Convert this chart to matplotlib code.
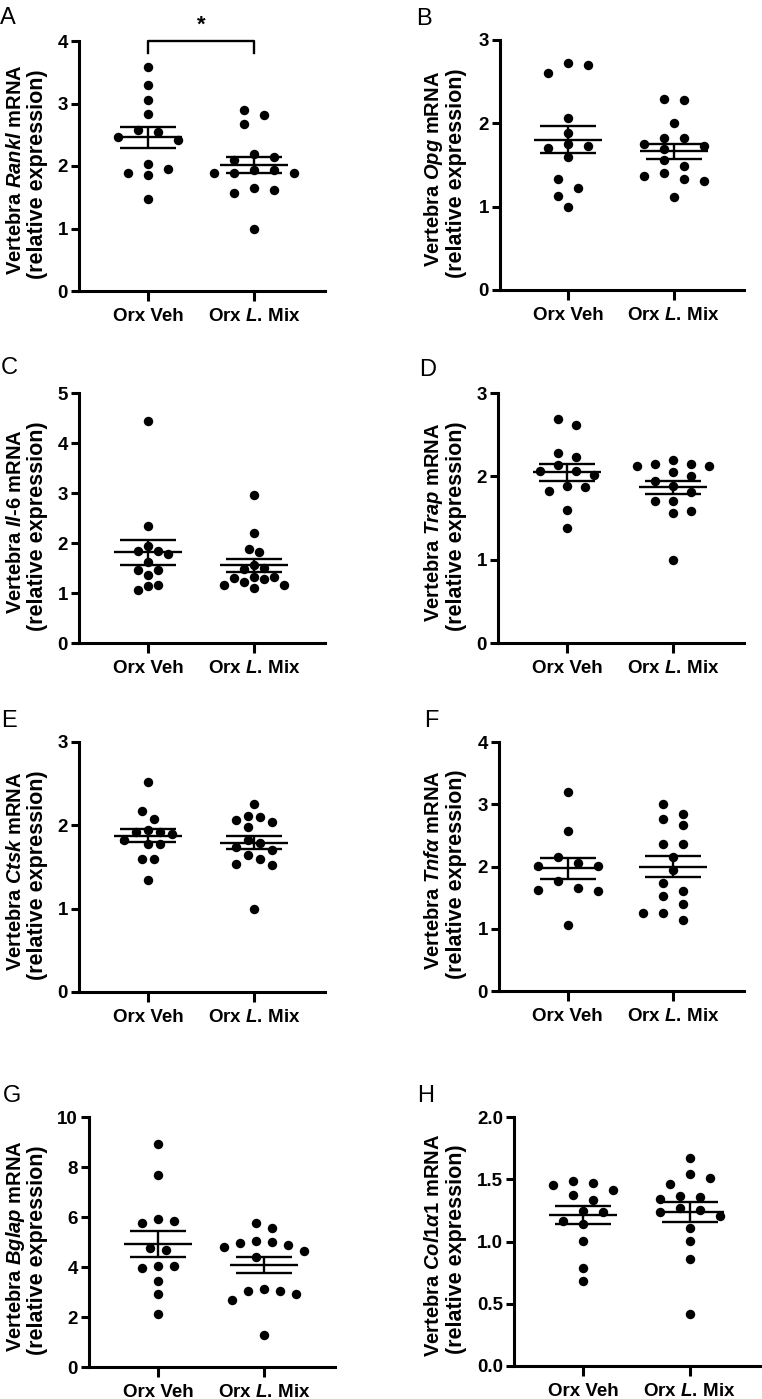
import numpy as np
import matplotlib
matplotlib.use('Agg')
import matplotlib.pyplot as plt

plt.rcParams['font.family'] = ['Liberation Sans', 'DejaVu Sans']
plt.rcParams['mathtext.fontset'] = 'custom'
plt.rcParams['mathtext.rm'] = 'Liberation Sans:bold'
plt.rcParams['mathtext.it'] = 'Liberation Sans:italic:bold'
plt.rcParams['mathtext.bf'] = 'Liberation Sans:bold'

groups = ['Orx Veh', r'Orx $\mathit{L}$. Mix']

# values (relative expression), one list per group
rankl_veh = [3.58, 3.29, 3.06, 2.83, 2.57, 2.54, 2.47, 2.42, 2.04, 1.95, 1.89, 1.85, 1.48]
rankl_mix = [2.89, 2.81, 2.68, 2.20, 2.14, 2.09, 1.93, 1.93, 1.89, 1.89, 1.89, 1.65, 1.62, 1.57, 1.00]
opg_veh = [2.72, 2.70, 2.61, 2.06, 1.89, 1.75, 1.73, 1.71, 1.60, 1.33, 1.23, 1.13, 1.00]
opg_mix = [2.29, 2.28, 2.00, 1.83, 1.83, 1.75, 1.73, 1.69, 1.56, 1.49, 1.40, 1.37, 1.33, 1.31, 1.12]
il6_veh = [4.45, 2.35, 1.95, 1.85, 1.85, 1.78, 1.62, 1.47, 1.47, 1.37, 1.17, 1.15, 1.07]
il6_mix = [2.97, 2.21, 1.89, 1.83, 1.57, 1.50, 1.48, 1.33, 1.32, 1.30, 1.28, 1.23, 1.17, 1.17, 1.11]
trap_veh = [2.69, 2.62, 2.28, 2.23, 2.14, 2.06, 2.06, 2.02, 1.88, 1.87, 1.82, 1.60, 1.38]
trap_mix = [2.20, 2.15, 2.15, 2.12, 2.12, 2.05, 2.01, 1.95, 1.88, 1.81, 1.71, 1.70, 1.59, 1.56, 1.00]
ctsk_veh = [2.52, 2.17, 2.08, 1.94, 1.92, 1.92, 1.90, 1.82, 1.78, 1.78, 1.60, 1.60, 1.34]
ctsk_mix = [2.26, 2.11, 2.10, 2.06, 2.04, 1.98, 1.82, 1.79, 1.74, 1.71, 1.64, 1.60, 1.54, 1.52, 1.00]
tnfa_veh = [3.20, 2.57, 2.16, 2.06, 2.01, 2.01, 1.76, 1.65, 1.62, 1.60, 1.06]
tnfa_mix = [3.00, 2.84, 2.76, 2.66, 2.36, 2.36, 2.16, 1.94, 1.73, 1.60, 1.53, 1.39, 1.26, 1.25, 1.14]
bglap_veh = [8.92, 7.69, 5.92, 5.84, 5.78, 4.75, 4.68, 4.05, 4.05, 3.97, 3.45, 2.94, 2.11]
bglap_mix = [5.75, 5.55, 5.04, 4.99, 4.95, 4.88, 4.81, 4.65, 4.41, 3.11, 3.05, 3.03, 2.94, 2.70, 1.27]
col1a1_veh = [1.488, 1.469, 1.450, 1.416, 1.370, 1.335, 1.241, 1.233, 1.161, 1.139, 1.008, 0.791, 0.686]
col1a1_mix = [1.668, 1.542, 1.507, 1.462, 1.366, 1.360, 1.339, 1.267, 1.253, 1.240, 1.205, 1.111, 1.004, 0.858, 0.416]

letters = ['A', 'B', 'C', 'D', 'E', 'F', 'G', 'H']
genes = [r'$\mathit{Rankl}$', r'$\mathit{Opg}$', r'$\mathit{Il}$-6', r'$\mathit{Trap}$',
         r'$\mathit{Ctsk}$', r'$\mathit{Tnf\alpha}$', r'$\mathit{Bglap}$', r'$\mathit{Col1\alpha1}$']
data = [(rankl_veh, rankl_mix), (opg_veh, opg_mix), (il6_veh, il6_mix), (trap_veh, trap_mix),
        (ctsk_veh, ctsk_mix), (tnfa_veh, tnfa_mix), (bglap_veh, bglap_mix), (col1a1_veh, col1a1_mix)]
ymaxs = [4, 3, 5, 3, 3, 4, 10, 2]
ysteps = [1, 1, 1, 1, 1, 1, 2, 0.5]

# layout in pixels: axes left, top (ymax), bottom (y=0), right; panel letter x, baseline y
W, H = 762, 1399
boxes = [(79, 41, 291, 325), (500, 40, 290, 744),
         (79, 393, 643, 325), (498, 393, 643, 744),
         (79, 742, 992, 325), (499, 742, 991, 744),
         (89, 1117, 1367, 335), (514, 1117, 1366, 761)]
letter_pos = [(0, 24), (416, 25), (1, 374), (419, 376), (1, 727), (424, 727), (3, 1102), (417, 1102)]
swarm_sp = [20, 20, 10, 18, 12, 20, 16, 20]

XL = (0.35, 2.67)


def swarm(vals, ymax, sp_px, h_px, d_px=10.5):
    # greedy slot layout, top value first, centre slot preferred
    vals = np.asarray(vals)
    y = vals * h_px / ymax
    slots = np.zeros(len(vals))
    done = []
    cands = [0] + [s for j in range(1, 10) for s in (j, -j)]
    for i in np.argsort(-vals, kind='stable'):
        for c in cands:
            if all(not (slots[p] == c and abs(y[p] - y[i]) < d_px) for p in done):
                break
        slots[i] = c
        done.append(i)
    # re-centre each chain of touching rows so rows sit symmetric about the group centre
    order = np.argsort(-vals, kind='stable')
    chains, cur = [], [order[0]]
    for a, b in zip(order[:-1], order[1:]):
        if y[a] - y[b] < d_px:
            cur.append(b)
        else:
            chains.append(cur)
            cur = [b]
    chains.append(cur)
    for ch in chains:
        if len(ch) > 1:
            shift = np.round(slots[ch].mean() * 2) / 2
            slots[ch] -= shift
    return slots * sp_px


fig = plt.figure(figsize=(W / 100, H / 100), dpi=100)

for k in range(8):
    l, t, b, r = boxes[k]
    ax = fig.add_axes([l / W, 1 - b / H, (r - l) / W, (b - t) / H])
    xunit = (XL[1] - XL[0]) / (r - l)
    for g, vals in enumerate(data[k]):
        vals = np.asarray(vals)
        xc = g + 1
        xs = xc + swarm(vals, ymaxs[k], swarm_sp[k], b - t) * xunit
        ax.plot(xs, vals, 'o', color='black', markersize=6.8, markeredgewidth=0, zorder=3)
        m = vals.mean()
        sem = vals.std(ddof=1) / np.sqrt(len(vals))
        ax.hlines(m, xc - 34 * xunit, xc + 34 * xunit, color='black', lw=1.7, zorder=4)
        ax.errorbar(xc, m, yerr=sem, fmt='none', ecolor='black', elinewidth=1.7,
                    capsize=20.5, capthick=1.7, zorder=4)

    ax.set_xlim(*XL)
    ax.set_ylim(0, ymaxs[k])
    ax.set_yticks(np.arange(0, ymaxs[k] + ysteps[k] / 2, ysteps[k]))
    if ysteps[k] < 1:
        ax.set_yticklabels(['%.1f' % v for v in ax.get_yticks()])
    ax.set_xticks([1, 2])
    ax.set_xticklabels(groups)
    for s in ['top', 'right']:
        ax.spines[s].set_visible(False)
    for s in ['left', 'bottom']:
        ax.spines[s].set_linewidth(2.2)
    ax.tick_params(axis='y', length=6, width=2.2, labelsize=13.5, pad=2)
    ax.tick_params(axis='x', length=7, width=2.2, labelsize=13.5, pad=5)
    for lab in ax.get_xticklabels() + ax.get_yticklabels():
        lab.set_fontweight('bold')

    # two-line y label, placed in figure pixels
    x0 = 0 if k % 2 == 0 else 418
    ycen = (t + b) / 2 + 4
    fig.text((x0 + 16) / W, 1 - ycen / H, 'Vertebra ' + genes[k] + ' mRNA',
             rotation=90, ha='center', va='center', fontsize=14.5, fontweight='bold')
    fig.text((x0 + 38) / W, 1 - (ycen + 4) / H, '(relative expression)',
             rotation=90, ha='center', va='center', fontsize=15.5, fontweight='bold')

    lx, ly = letter_pos[k]
    fig.text(lx / W, 1 - ly / H, letters[k], fontsize=17, ha='left', va='baseline')

    if k == 0:
        ax.plot([1, 1, 2, 2], [3.81, 4, 4, 3.81], color='black', lw=1.7, clip_on=False)
        ax.text(1.5, 4.09, '*', ha='center', va='bottom', fontsize=16, fontweight='bold')

fig.savefig('out.png', dpi=100)
